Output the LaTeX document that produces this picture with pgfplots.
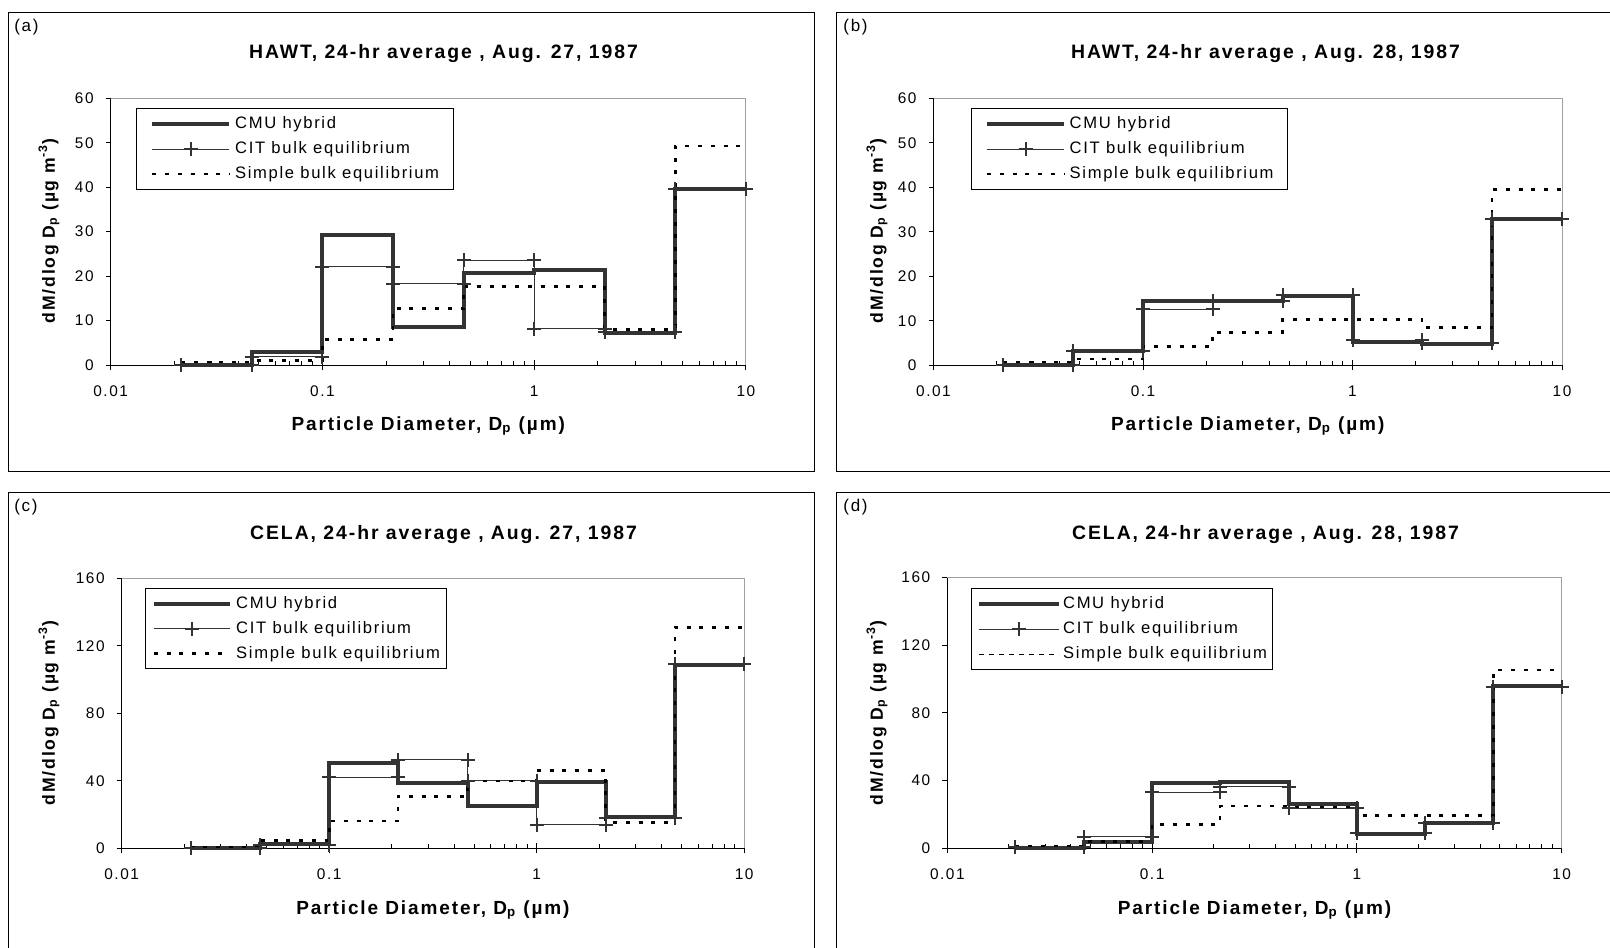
\documentclass[border=0pt]{standalone}
\usepackage{fontspec}
\setmainfont{Liberation Sans}
\newfontfamily\spaced[LetterSpace=10]{Liberation Sans}
\usepackage{pgfplots}
\pgfplotsset{compat=1.18}

\definecolor{dk}{HTML}{333333}
\definecolor{bord}{HTML}{A0A0A0}

\newcommand\ttl{\spaced\bfseries\fontsize{9.7}{11}\selectfont}
\newcommand\xlb{\spaced\bfseries\fontsize{9.5}{11}\selectfont}
\newcommand\ylb{\spaced\bfseries\fontsize{8.8}{10}\selectfont}
\newcommand\tck{\spaced\fontsize{7.7}{9}\selectfont}
\newcommand\lgd{\spaced\fontsize{8.3}{10}\selectfont}
\newcommand\pnl{\spaced\fontsize{8.5}{10}\selectfont}

\pgfplotsset{every axis/.append style={
    anchor=south west, scale only axis,
    xmode=log, xmin=0.01, xmax=10, ymin=0,
    axis x line=bottom, axis y line=left,
    axis line style={-, black, line width=0.5pt},
    xtick={0.01,0.1,1,10}, xticklabels={0.01,0.1,1,10},
    minor xtick={0.02,0.03,0.04,0.05,0.06,0.07,0.08,0.09,0.2,0.3,0.4,0.5,0.6,0.7,0.8,0.9,2,3,4,5,6,7,8,9},
    extra x ticks={0.01,0.1,1,10}, extra x tick labels={},
    extra x tick style={tick align=inside},
    tick align=outside, major tick length=2.5pt, minor tick length=2pt,
    tick style={black, line width=0.5pt},
    minor tick style={yshift=2pt},
    ticklabel style={font=\tck, inner sep=0pt},
    xticklabel style={anchor=north, yshift=-7.5pt},
    yticklabel style={anchor=east, xshift=-5.85pt},
    clip=false,
    legend cell align=left,
    legend style={draw=black, line width=0.5pt, font=\lgd, inner xsep=7pt, inner ysep=3.9pt,
      row sep=5pt, column sep=1.85pt, nodes={inner sep=0pt}, anchor=north west},
}}

\begin{document}
\begin{tikzpicture}
\useasboundingbox (0pt,0pt) rectangle (805pt,-473.5pt);

% ---------- (a) HAWT, Aug. 27
\begin{axis}[at={(55.35pt,-182.5pt)}, width=317.65pt, height=133.35pt,
  ymax=60, ytick={0,10,20,30,40,50,60}, yticklabels={0,10,20,30,40,50,60},
  legend style={at={(axis description cs:0.0398,0.9625)}},
  legend image code/.code={\draw[mark repeat=2,mark phase=2,#1] plot coordinates {(0pt,0pt) (19.25pt,0pt) (38.5pt,0pt)};}]
\draw[bord, line width=0.5pt] (rel axis cs:0,1) -- (rel axis cs:1,1) -- (rel axis cs:1,0);
\addplot[dk, line width=2pt, line join=miter, mark=none, const plot] coordinates {(0.0215,0) (0.0464,3.0) (0.1,29.2) (0.215,8.6) (0.464,20.6) (1,21.4) (2.15,7.3) (4.64,39.5) (10,39.5)};
\addplot[dk, line width=0.6pt, mark=+, mark size=3.5pt, mark options={line width=1pt}] coordinates {(0.0215,0) (0.0464,0) (0.0464,1.9) (0.1,1.9) (0.1,22.1) (0.215,22.1) (0.215,18.3) (0.464,18.3)
  (0.464,23.6) (1,23.6) (1,8.2) (2.15,8.2) (2.15,7.4) (4.64,7.4) (4.64,39.5) (10,39.5)};
\addplot[black, line width=1.3pt, dash pattern=on 2pt off 4.4pt, mark=none, const plot] coordinates {(0.0215,0.7) (0.0464,1.0) (0.1,5.8) (0.215,12.7) (0.464,17.7) (1,17.7) (2.15,8.0) (4.64,49.3) (10,49.3)};
\legend{CMU hybrid, CIT bulk equilibrium, Simple bulk equilibrium}
\end{axis}

% ---------- (b) HAWT, Aug. 28
\begin{axis}[at={(466.75pt,-182.6pt)}, width=314.25pt, height=133.45pt,
  ymax=60, ytick={0,10,20,30,40,50,60}, yticklabels={0,10,20,30,40,50,60},
  legend style={at={(axis description cs:0.0589,0.9625)}},
  legend image code/.code={\draw[mark repeat=2,mark phase=2,#1] plot coordinates {(0pt,0pt) (19.25pt,0pt) (38.5pt,0pt)};}]
\draw[bord, line width=0.5pt] (rel axis cs:0,1) -- (rel axis cs:1,1) -- (rel axis cs:1,0);
\addplot[dk, line width=2pt, line join=miter, mark=none, const plot] coordinates {(0.0215,0) (0.0464,3.3) (0.1,14.45) (0.215,14.45) (0.464,15.6) (1,5.3) (2.15,4.8) (4.64,32.8) (10,32.8)};
\addplot[dk, line width=0.6pt, mark=+, mark size=3.5pt, mark options={line width=1pt}] coordinates {(0.0215,0) (0.0464,0) (0.0464,3.3) (0.1,3.3) (0.1,12.6) (0.215,12.6) (0.215,14.45) (0.464,14.45)
  (0.464,15.8) (1,15.8) (1,5.6) (2.15,5.6) (2.15,4.9) (4.64,4.9) (4.64,32.8) (10,32.8)};
\addplot[black, line width=1.3pt, dash pattern=on 2pt off 4.4pt, mark=none, const plot] coordinates {(0.0215,0.7) (0.0464,1.4) (0.1,4.2) (0.215,7.4) (0.464,10.3) (1,10.3) (2.15,8.5) (4.64,39.5) (10,39.5)};
\legend{CMU hybrid, CIT bulk equilibrium, Simple bulk equilibrium}
\end{axis}

% ---------- (c) CELA, Aug. 27
\begin{axis}[at={(60.85pt,-424.15pt)}, width=311.25pt, height=135pt,
  ymax=160, ytick={0,40,80,120,160}, yticklabels={0,40,80,120,160},
  legend style={at={(axis description cs:0.0368,0.9652)}, inner xsep=3.35pt, column sep=2.2pt},
  legend image code/.code={\draw[mark repeat=2,mark phase=2,#1] plot coordinates {(0pt,0pt) (19pt,0pt) (38pt,0pt)};}]
\draw[bord, line width=0.5pt] (rel axis cs:0,1) -- (rel axis cs:1,1) -- (rel axis cs:1,0);
\addplot[dk, line width=2pt, line join=miter, mark=none, const plot] coordinates {(0.0215,0) (0.0464,2.8) (0.1,50.4) (0.215,38.5) (0.464,25.2) (1,39.1) (2.15,18.7) (4.64,108.9) (10,108.9)};
\addplot[dk, line width=0.6pt, mark=+, mark size=3.5pt, mark options={line width=1pt}] coordinates {(0.0215,0) (0.0464,0) (0.0464,2.0) (0.1,2.0) (0.1,42.1) (0.215,42.1) (0.215,52.4) (0.464,52.4)
  (0.464,40.1) (1,40.1) (1,13.9) (2.15,13.9) (2.15,18.0) (4.64,18.0) (4.64,109.5) (10,109.5)};
\addplot[black, line width=1.3pt, dash pattern=on 2pt off 4.4pt, mark=none, const plot] coordinates {(0.0215,0.8) (0.0464,4.8) (0.1,16.3) (0.215,30.8) (0.464,40.0) (1,46.0) (2.15,15.3) (4.64,131.0) (10,131.0)};
\legend{CMU hybrid, CIT bulk equilibrium, Simple bulk equilibrium}
\end{axis}

% ---------- (d) CELA, Aug. 28
\begin{axis}[at={(473.65pt,-424.15pt)}, width=307.15pt, height=135.5pt,
  ymax=160, ytick={0,40,80,120,160}, yticklabels={0,40,80,120,160},
  legend style={at={(axis description cs:0.0391,0.9594)}, inner xsep=2.65pt, column sep=1pt},
  legend image code/.code={\draw[mark repeat=2,mark phase=2,#1] plot coordinates {(0pt,0pt) (20pt,0pt) (40pt,0pt)};}]
\draw[bord, line width=0.5pt] (rel axis cs:0,1) -- (rel axis cs:1,1) -- (rel axis cs:1,0);
\addplot[dk, line width=2pt, line join=miter, mark=none, const plot] coordinates {(0.0215,0) (0.0464,3.9) (0.1,38.8) (0.215,39.4) (0.464,26.0) (1,8.3) (2.15,14.8) (4.64,95.9) (10,95.9)};
\addplot[dk, line width=0.6pt, mark=+, mark size=3.5pt, mark options={line width=1pt}] coordinates {(0.0215,0.5) (0.0464,0.5) (0.0464,6.9) (0.1,6.9) (0.1,33.0) (0.215,33.0) (0.215,36.4) (0.464,36.4)
  (0.464,23.6) (1,23.6) (1,8.9) (2.15,8.9) (2.15,14.8) (4.64,14.8) (4.64,95.0) (10,95.0)};
\addplot[black, line width=1.3pt, dash pattern=on 2pt off 4.4pt, mark=none, const plot, forget plot] coordinates {(0.0215,1.4) (0.0464,4.0) (0.1,14.2) (0.215,25.0) (0.464,24.5) (1,19.3) (2.15,19.3) (4.64,105.3) (10,105.3)};
\addlegendimage{black, line width=0.5pt, dash pattern=on 2.5pt off 2.5pt}
\legend{CMU hybrid, CIT bulk equilibrium, Simple bulk equilibrium}
\end{axis}

\begin{scope}[x=0.5pt, y=-0.5pt]
  \draw[black, line width=0.5pt] (8,12.7) rectangle (814,471.7);
  \draw[black, line width=0.5pt] (836,12.7) rectangle (1614,471.7);
  \draw[black, line width=0.5pt] (8,492.3) rectangle (814,951);
  \draw[black, line width=0.5pt] (836,492.3) rectangle (1614,951);

  \node[font=\pnl, anchor=base west, inner sep=0pt] at (14,32) {(a)};
  \node[font=\pnl, anchor=base west, inner sep=0pt] at (843,32) {(b)};
  \node[font=\pnl, anchor=base west, inner sep=0pt] at (14,511) {(c)};
  \node[font=\pnl, anchor=base west, inner sep=0pt] at (843,511) {(d)};

  \node[font=\ttl, anchor=base, inner sep=0pt] at (443.5,59) {HAWT, 24-hr average , Aug. 27, 1987};
  \node[font=\ttl, anchor=base, inner sep=0pt] at (1265.5,59) {HAWT, 24-hr average , Aug. 28, 1987};
  \node[font=\ttl, anchor=base, inner sep=0pt] at (443.5,539) {CELA, 24-hr average , Aug. 27, 1987};
  \node[font=\ttl, anchor=base, inner sep=0pt] at (1265.5,539) {CELA, 24-hr average , Aug. 28, 1987};

  \node[font=\xlb, anchor=base, inner sep=0pt] at (428.3,430.7) {Particle Diameter, D\textsubscript{p} (µm)};
  \node[font=\xlb, anchor=base, inner sep=0pt] at (1247.7,430.7) {Particle Diameter, D\textsubscript{p} (µm)};
  \node[font=\xlb, anchor=base, inner sep=0pt] at (432.9,914.3) {Particle Diameter, D\textsubscript{p} (µm)};
  \node[font=\xlb, anchor=base, inner sep=0pt] at (1254.5,914.3) {Particle Diameter, D\textsubscript{p} (µm)};

  \node[font=\ylb, rotate=90, inner sep=0pt] at (49,231) {dM/dlog D\textsubscript{p} (µg m\textsuperscript{-3})};
  \node[font=\ylb, rotate=90, inner sep=0pt] at (877,231) {dM/dlog D\textsubscript{p} (µg m\textsuperscript{-3})};
  \node[font=\ylb, rotate=90, inner sep=0pt] at (49,713) {dM/dlog D\textsubscript{p} (µg m\textsuperscript{-3})};
  \node[font=\ylb, rotate=90, inner sep=0pt] at (877,713) {dM/dlog D\textsubscript{p} (µg m\textsuperscript{-3})};
\end{scope}
\end{tikzpicture}
\end{document}
